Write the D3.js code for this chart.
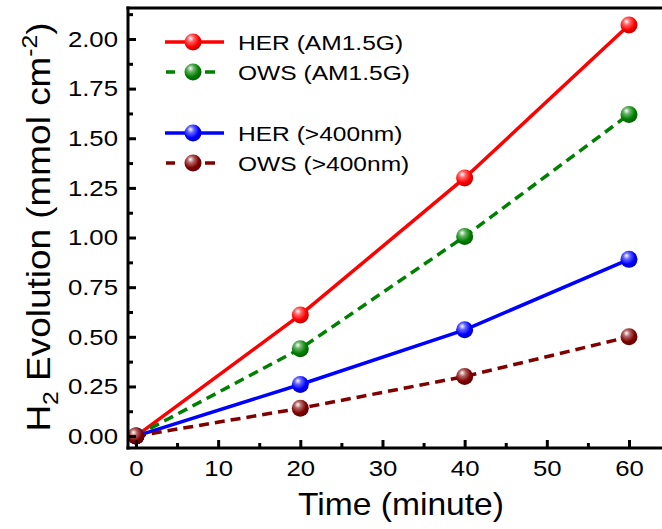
<!DOCTYPE html>
<html>
<head>
<meta charset="utf-8">
<script src="https://cdn.jsdelivr.net/npm/d3@7"></script>
<style>
  body { margin: 0; background: #fff; }
  text { font-family: "Liberation Sans", Arial, sans-serif; fill: #000; }
</style>
</head>
<body>
<div id="chart"></div>
<script>
var svgWidth = 662;
var svgHeight = 529;

// data
var times = [0, 20, 40, 60];
var herAM = [0, 0.61, 1.30, 2.07];
var owsAM = [0, 0.44, 1.005, 1.62];
var herVis = [0, 0.26, 0.535, 0.89];
var owsVis = [0, 0.14, 0.30, 0.50];

var xTicks = [0, 10, 20, 30, 40, 50, 60];
var xMinor = [5, 15, 25, 35, 45, 55];
var yTicks = [0, 0.25, 0.5, 0.75, 1.0, 1.25, 1.5, 1.75, 2.0];
var yMinor = [0.125, 0.375, 0.625, 0.875, 1.125, 1.375, 1.625, 1.875, 2.125];

var seriesNames = ["HER (AM1.5G)", "OWS (AM1.5G)", "HER (>400nm)", "OWS (>400nm)"];
var seriesValues = [herAM, owsAM, herVis, owsVis];
var seriesColors = ["#ff0000", "#008000", "#0000ff", "#800000"];
var seriesDash = [null, "10,6", null, "10,6"];

var margin = { top: 8, left: 128, bottom: 81 };
var height = svgHeight - margin.top - margin.bottom;

var svg = d3.select("#chart")
  .append("svg")
  .attr("width", svgWidth)
  .attr("height", svgHeight);

var x = d3.scaleLinear().domain([-0.97, 65]).range([margin.left, margin.left + 65.97 * 8.217]);
var y = d3.scaleLinear().domain([-0.06, 2.156]).range([margin.top + height, margin.top]);

// sphere gradients
var defs = svg.append("defs");
seriesColors.forEach(function(c, i) {
  var g = defs.append("radialGradient")
    .attr("id", "ball" + i)
    .attr("cx", "40%").attr("cy", "35%").attr("r", "65%")
    .attr("fx", "35%").attr("fy", "28%");
  g.append("stop").attr("offset", "0%").attr("stop-color", "#ffffff");
  g.append("stop").attr("offset", "30%").attr("stop-color", d3.interpolateRgb("#ffffff", c)(0.6));
  g.append("stop").attr("offset", "70%").attr("stop-color", c);
  g.append("stop").attr("offset", "100%").attr("stop-color", d3.color(c).darker(0.8));
});

var plot = svg.append("g");

var line = d3.line()
  .x(function(d, i) { return x(times[i]); })
  .y(function(d) { return y(d); });

// lines
seriesValues.forEach(function(vals, i) {
  plot.append("path")
    .datum(vals)
    .attr("d", line)
    .attr("fill", "none")
    .attr("stroke", seriesColors[i])
    .attr("stroke-width", 3.5)
    .attr("stroke-dasharray", seriesDash[i]);
});

// markers
seriesValues.forEach(function(vals, i) {
  plot.selectAll(".m" + i)
    .data(vals)
    .enter()
    .append("circle")
    .attr("cx", function(d, j) { return x(times[j]); })
    .attr("cy", function(d) { return y(d); })
    .attr("r", 8.5)
    .attr("fill", "url(#ball" + i + ")");
});

// axes
var xAxis = svg.append("g")
  .attr("transform", "translate(0," + (margin.top + height) + ")")
  .call(d3.axisBottom(x).tickValues(xTicks).tickSize(-8).tickPadding(21).tickFormat(d3.format("d")));
svg.append("g")
  .attr("transform", "translate(0," + (margin.top + height) + ")")
  .call(d3.axisBottom(x).tickValues(xMinor).tickSize(-5).tickFormat(""));

var yAxis = svg.append("g")
  .attr("transform", "translate(" + margin.left + ",0)")
  .call(d3.axisLeft(y).tickValues(yTicks).tickSize(-8).tickPadding(10).tickFormat(d3.format(".2f")));
svg.append("g")
  .attr("transform", "translate(" + margin.left + ",0)")
  .call(d3.axisLeft(y).tickValues(yMinor).tickSize(-5).tickFormat(""));

svg.selectAll(".domain").remove();
svg.selectAll(".tick line").attr("stroke", "#000").attr("stroke-width", 3);
svg.selectAll(".tick text").style("font-size", "23px").attr("fill", "#000");
xAxis.selectAll(".tick text").attr("dy", "0.3em")
  .attr("transform", "scale(1.12,1)")
  .attr("x", function() { return 0; });
yAxis.selectAll(".tick text")
  .attr("x", null)
  .attr("transform", "translate(-10,0) scale(1.12,1)");

// frame lines
svg.append("line").attr("x1", margin.left).attr("x2", margin.left)
  .attr("y1", margin.top - 1.5).attr("y2", margin.top + height + 1.5)
  .attr("stroke", "#000").attr("stroke-width", 3);
svg.append("line").attr("x1", margin.left - 1.5).attr("x2", svgWidth)
  .attr("y1", margin.top + height).attr("y2", margin.top + height)
  .attr("stroke", "#000").attr("stroke-width", 3);
svg.append("line").attr("x1", margin.left - 1.5).attr("x2", svgWidth)
  .attr("y1", margin.top).attr("y2", margin.top)
  .attr("stroke", "#000").attr("stroke-width", 3);

// axis titles
svg.append("text")
  .attr("transform", "translate(401,515) scale(1.05,1)")
  .attr("text-anchor", "middle")
  .style("font-size", "32px")
  .text("Time (minute)");

var yTitle = svg.append("text")
  .attr("transform", "translate(50,227) rotate(-90) scale(1.12,1)")
  .attr("text-anchor", "middle")
  .style("font-size", "33px");
yTitle.append("tspan").text("H");
yTitle.append("tspan").attr("dy", 8).style("font-size", "22px").text("2");
yTitle.append("tspan").attr("dy", -8).text(" Evolution (mmol cm");
yTitle.append("tspan").attr("dy", -13).style("font-size", "22px").text("-2");
yTitle.append("tspan").attr("dy", 13).text(")");

// legend
var legendY = [42, 72, 133, 163];
var legend = svg.append("g");
seriesNames.forEach(function(name, i) {
  var row = legend.append("g").attr("transform", "translate(0," + legendY[i] + ")");
  if (seriesDash[i]) {
    row.append("line").attr("x1", 166).attr("x2", 175).attr("y1", 0).attr("y2", 0)
      .attr("stroke", seriesColors[i]).attr("stroke-width", 3.5);
    row.append("line").attr("x1", 205).attr("x2", 215).attr("y1", 0).attr("y2", 0)
      .attr("stroke", seriesColors[i]).attr("stroke-width", 3.5);
  } else {
    row.append("line").attr("x1", 165).attr("x2", 224).attr("y1", 0).attr("y2", 0)
      .attr("stroke", seriesColors[i]).attr("stroke-width", 3.5);
  }
  row.append("circle").attr("cx", 193).attr("cy", 0).attr("r", 8.5)
    .attr("fill", "url(#ball" + i + ")");
  row.append("text")
    .attr("transform", "translate(238,7.5) scale(1.17,1)")
    .style("font-size", "21px")
    .text(name);
});
</script>
</body>
</html>
